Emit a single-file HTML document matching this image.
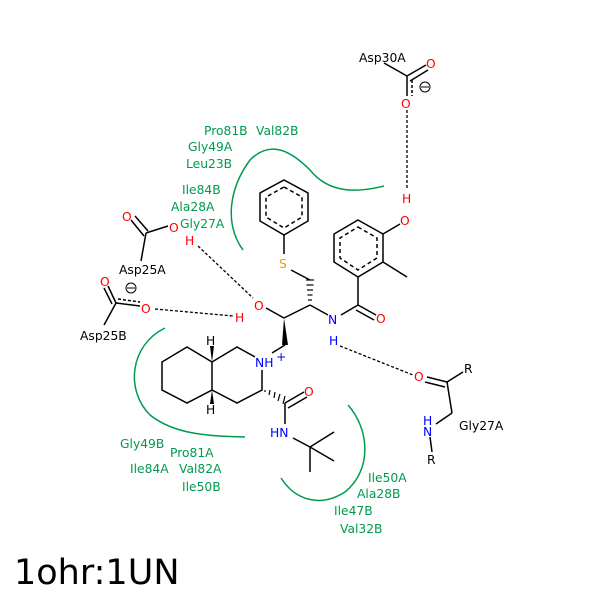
<!DOCTYPE html>
<html><head><meta charset="utf-8"><style>body{margin:0;background:#fff}svg{display:block}text{font-family:"DejaVu Sans","Liberation Sans",sans-serif;font-size:12.3px}</style></head><body>
<svg width="600" height="600" viewBox="0 0 600 600" xmlns="http://www.w3.org/2000/svg">
<rect width="600" height="600" fill="#fff"/>
<g fill="none" stroke="#009a4e" stroke-width="1.5">
<path d="M243,250 C225,225 228,190 250,160 C270,140 290,150 310,170 C330,195 360,192 384,186"/>
<path d="M165,328 C130,345 125,390 150,415 C175,435 210,436 245,437"/>
<path d="M348,405 C370,430 372,470 345,492 C320,508 295,500 281,478"/>
</g>
<g stroke="#000" stroke-width="1.5" fill="none">
<line x1="384" y1="63" x2="407" y2="76"/>
<line x1="407" y1="76" x2="426" y2="65"/><line x1="410" y1="81" x2="428" y2="70"/>
<line x1="407" y1="76" x2="407" y2="96"/><line x1="412" y1="80" x2="412" y2="96" stroke-dasharray="3,2"/>
<polygon points="358,220 383,234 383,262 358,277 334,262 334,234"/>
<polygon points="358,227 377,238 377,258 358,270 340,258 340,238" stroke-dasharray="4,3"/>
<line x1="383" y1="234" x2="400" y2="224"/>
<line x1="383" y1="262" x2="407" y2="277"/>
<line x1="358" y1="277" x2="358" y2="305"/>
<line x1="358" y1="305" x2="376" y2="315"/><line x1="356" y1="310" x2="374" y2="320"/>
<line x1="358" y1="305" x2="341" y2="315"/>
<line x1="328" y1="315" x2="310" y2="305"/>
<polygon points="284,180 308,193 308,221 284,235 260,221 260,193"/>
<polygon points="284,187 302,197 302,217 284,228 266,217 266,197" stroke-dasharray="4,3"/>
<line x1="284" y1="235" x2="284" y2="254"/>
<line x1="291" y1="270" x2="310" y2="280"/>
<line x1="310" y1="305" x2="284" y2="318"/>
<line x1="284" y1="318" x2="266" y2="308"/>
<line x1="285" y1="345" x2="272" y2="353"/>
<polyline points="212,362 187,347 162,362 162,390 187,403 212,390 212,362 237,347 255,357"/>
<polyline points="262,370 262,390 237,403 212,390"/>
<line x1="285" y1="403" x2="304" y2="392"/><line x1="288" y1="408" x2="307" y2="397"/>
<line x1="285" y1="403" x2="285" y2="424"/>
<line x1="293" y1="438" x2="310" y2="447"/>
<line x1="310" y1="447" x2="334" y2="432"/><line x1="310" y1="447" x2="334" y2="461"/><line x1="310" y1="447" x2="310" y2="472"/>
<line x1="131" y1="220" x2="144" y2="236"/><line x1="135" y1="216" x2="148" y2="231"/>
<line x1="146" y1="233" x2="168" y2="226"/>
<line x1="146" y1="233" x2="141" y2="261"/>
<line x1="108" y1="286" x2="116" y2="303"/><line x1="104" y1="288" x2="112" y2="304"/>
<line x1="116" y1="303" x2="140" y2="306"/><line x1="118" y1="299" x2="140" y2="302" stroke-dasharray="3,2"/>
<line x1="116" y1="303" x2="104" y2="325"/>
<line x1="427" y1="377" x2="447" y2="382"/><line x1="425" y1="382" x2="445" y2="387"/>
<line x1="447" y1="382" x2="463" y2="372"/>
<line x1="447" y1="382" x2="452" y2="413"/>
<line x1="452" y1="413" x2="436" y2="424"/>
<line x1="430" y1="437" x2="432" y2="452"/>
</g>
<polygon points="284,318 282,345 288,345" fill="#000"/>
<polygon points="212,362 210,346 214,346" fill="#000"/>
<polygon points="212,390 210,404 214,404" fill="#000"/>
<g stroke="#000" stroke-width="1.2">
<line x1="308" y1="300" x2="312" y2="300"/><line x1="307.5" y1="295" x2="312.5" y2="295"/><line x1="307" y1="290" x2="313" y2="290"/><line x1="306.5" y1="285" x2="313.5" y2="285"/><line x1="306" y1="280" x2="314" y2="280"/>
<line x1="265" y1="390" x2="265" y2="392"/><line x1="270" y1="390" x2="269" y2="395"/><line x1="275" y1="392" x2="274" y2="398"/><line x1="280" y1="394" x2="278" y2="401"/><line x1="285" y1="396" x2="283" y2="404"/>
</g>
<g stroke="#000" stroke-width="1.3" stroke-dasharray="3,2" fill="none">
<line x1="407" y1="110" x2="407" y2="190"/>
<line x1="198" y1="246" x2="253" y2="298"/>
<line x1="155" y1="309" x2="233" y2="316"/>
<line x1="340" y1="346" x2="413" y2="375"/>
</g>
<g fill="none" stroke="#000" stroke-width="1"><circle cx="425" cy="87" r="5"/><circle cx="131" cy="288" r="5"/></g>
<g stroke="#000" stroke-width="1"><line x1="421" y1="87" x2="429" y2="87"/><line x1="127" y1="288" x2="135" y2="288"/></g>
<g fill="#000">
<text x="359" y="62">Asp30A</text>
<text x="119" y="274">Asp25A</text>
<text x="80" y="340">Asp25B</text>
<text x="459" y="430">Gly27A</text>
<text x="464" y="373">R</text>
<text x="427" y="464">R</text>
<text x="206" y="345">H</text>
<text x="206" y="414">H</text>
</g>
<g fill="#f00">
<text x="426" y="68">O</text><text x="401" y="108">O</text>
<text x="402" y="203">H</text><text x="400" y="225">O</text>
<text x="376" y="323">O</text>
<text x="122" y="221">O</text><text x="169" y="232">O</text><text x="185" y="245">H</text>
<text x="100" y="286">O</text><text x="141" y="313">O</text>
<text x="254" y="310">O</text><text x="235" y="322">H</text>
<text x="304" y="396">O</text>
<text x="414" y="381">O</text>
</g>
<g fill="#00f">
<text x="328" y="324">N</text><text x="329" y="345">H</text>
<text x="255" y="367">NH</text><text x="276" y="361" font-size="10">+</text>
<text x="270" y="437">HN</text>
<text x="423" y="425">H</text><text x="423" y="436">N</text>
</g>
<text x="279" y="268" fill="#e6a000">S</text>
<g fill="#009a4e">
<text x="204" y="135">Pro81B</text><text x="256" y="135">Val82B</text>
<text x="188" y="151">Gly49A</text><text x="186" y="168">Leu23B</text>
<text x="182" y="194">Ile84B</text><text x="171" y="211">Ala28A</text><text x="180" y="228">Gly27A</text>
<text x="120" y="448">Gly49B</text><text x="170" y="457">Pro81A</text>
<text x="130" y="473">Ile84A</text><text x="179" y="473">Val82A</text><text x="182" y="491">Ile50B</text>
<text x="368" y="482">Ile50A</text><text x="357" y="498">Ala28B</text>
<text x="334" y="515">Ile47B</text><text x="340" y="533">Val32B</text>
</g>
<text x="14" y="584" style="font-size:35px" fill="#000">1ohr:1UN</text>
</svg>
</body></html>
